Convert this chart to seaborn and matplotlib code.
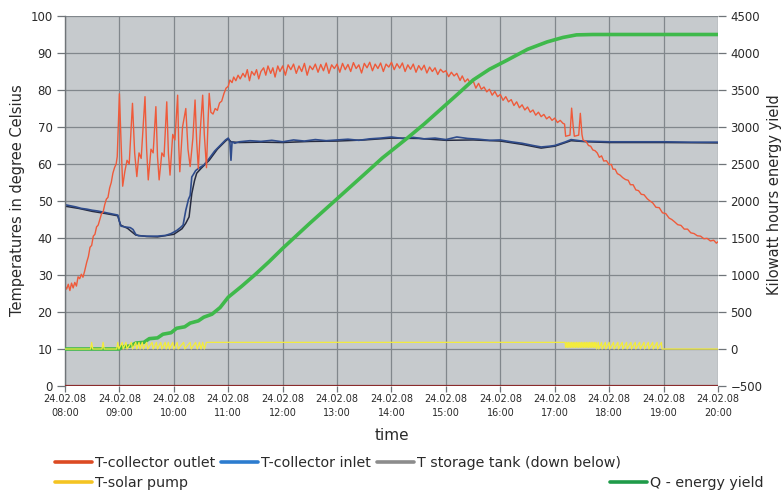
import matplotlib
matplotlib.use("Agg")
import matplotlib.pyplot as plt
from matplotlib.lines import Line2D
import seaborn as sns
import pandas as pd

# ---------------- data (hours of 24.02.08) ----------------
red_t = [8.00, 8.03, 8.06, 8.09, 8.12, 8.15, 8.18, 8.21, 8.24, 8.27, 8.30, 8.33, 8.36, 8.40,
         8.43, 8.46, 8.49, 8.52, 8.55, 8.58, 8.61, 8.64, 8.67, 8.70, 8.73, 8.76, 8.79, 8.82,
         8.85, 8.88, 8.91, 8.94, 8.96, 9.00, 9.03, 9.06, 9.10, 9.14, 9.18, 9.24, 9.28, 9.32,
         9.36, 9.40, 9.47, 9.50, 9.53, 9.58, 9.62, 9.67, 9.70, 9.73, 9.78, 9.82, 9.87, 9.90,
         9.93, 9.98, 10.02, 10.07, 10.09, 10.11, 10.16, 10.22, 10.26, 10.30, 10.35, 10.39,
         10.42, 10.45, 10.49, 10.53, 10.56, 10.60, 10.63, 10.65, 10.68, 10.72, 10.76, 10.80,
         10.84, 10.88, 10.92, 10.96, 11.00, 11.03, 11.07, 11.10, 11.14, 11.18, 11.22, 11.27,
         11.31, 11.35, 11.39, 11.43, 11.48, 11.52, 11.56, 11.60, 11.65, 11.69, 11.73, 11.78,
         11.82, 11.86, 11.91, 11.95, 12.00, 12.05, 12.10, 12.15, 12.20, 12.25, 12.30, 12.35,
         12.40, 12.45, 12.50, 12.55, 12.60, 12.65, 12.70, 12.75, 12.80, 12.85, 12.90, 12.95,
         13.00, 13.05, 13.10, 13.15, 13.20, 13.25, 13.30, 13.35, 13.40, 13.45, 13.50, 13.55,
         13.60, 13.65, 13.70, 13.75, 13.80, 13.85, 13.90, 13.95, 14.00, 14.05, 14.10, 14.15,
         14.20, 14.25, 14.30, 14.35, 14.40, 14.45, 14.50, 14.55, 14.60, 14.65, 14.70, 14.75,
         14.80, 14.85, 14.90, 14.95, 15.00, 15.05, 15.10, 15.15, 15.20, 15.26, 15.30, 15.35,
         15.40, 15.45, 15.50, 15.55, 15.60, 15.65, 15.70, 15.75, 15.80, 15.85, 15.90, 15.95,
         16.00, 16.05, 16.10, 16.15, 16.20, 16.25, 16.30, 16.35, 16.40, 16.45, 16.50, 16.55,
         16.60, 16.65, 16.70, 16.75, 16.80, 16.85, 16.90, 16.95, 17.00, 17.05, 17.10, 17.15,
         17.18, 17.20, 17.28, 17.31, 17.34, 17.36, 17.44, 17.47, 17.50, 17.52, 17.58, 17.62,
         17.66, 17.70, 17.74, 17.78, 17.82, 17.86, 17.90, 17.95, 18.00, 18.04, 18.07, 18.11,
         18.15, 18.20, 18.25, 18.30, 18.35, 18.39, 18.44, 18.49, 18.54, 18.59, 18.64, 18.70,
         18.75, 18.80, 18.86, 18.92, 18.98, 19.04, 19.10, 19.15, 19.20, 19.26, 19.32, 19.38,
         19.44, 19.50, 19.56, 19.62, 19.68, 19.74, 19.80, 19.86, 19.92, 19.97, 20.00]
red_v = [27.0, 26.2, 27.5, 25.8, 27.8, 26.5, 28.0, 27.0, 29.5, 29.0, 30.2, 29.4, 31.0, 33.5,
         35.0, 37.5, 38.0, 40.5, 41.0, 43.0, 43.5, 45.0, 46.5, 47.0, 49.0, 50.5, 51.0, 53.5,
         55.0, 57.5, 59.0, 60.0, 62.0, 79.0, 66.0, 54.0, 58.0, 61.0, 60.0, 76.4, 63.0, 56.6,
         63.0, 61.5, 78.2, 64.0, 55.7, 64.0, 63.0, 75.5, 62.0, 55.7, 63.0, 62.0, 76.8, 63.0,
         57.0, 68.0, 66.5, 78.6, 65.0, 57.9, 70.0, 75.0, 64.0, 59.3, 67.0, 77.3,
         66.0, 58.8, 70.0, 78.6, 68.0, 59.0, 72.0, 79.1, 74.0, 73.5, 75.0, 74.5,
         76.5, 77.0, 79.0, 80.5, 81.0, 82.7, 82.0, 83.5, 82.5, 84.0, 83.0, 84.5,
         83.5, 85.5, 82.5, 85.0, 84.0, 85.5, 83.0, 85.0, 86.0, 84.0, 86.5, 84.5,
         86.0, 83.5, 86.5, 85.0, 86.5, 84.0, 86.8, 85.5, 87.0, 84.5, 86.5, 85.0,
         87.2, 84.0, 86.5, 85.5, 87.0, 84.8, 86.9, 85.2, 87.3, 84.5, 86.8, 85.8,
         87.0, 84.8, 87.2, 85.5, 86.9, 85.0, 87.4, 85.8, 86.8, 84.6, 87.2, 86.0,
         87.5, 85.2, 87.0, 85.8, 87.3, 85.0, 87.0, 86.2, 87.5, 85.5, 87.1, 85.9,
         87.3, 85.0, 86.8, 85.6, 87.0, 84.8, 86.6, 85.4, 86.7, 84.6, 86.2, 85.0,
         86.0, 84.2, 85.6, 84.8, 85.2, 83.6, 84.8, 83.8, 84.5, 82.6, 83.8, 82.2,
         83.0, 81.8, 82.5, 80.5, 81.8, 80.2, 80.8, 79.5, 80.2, 78.6, 79.6, 78.2,
         78.8, 77.2, 78.2, 76.8, 77.4, 75.8, 76.8, 75.2, 76.0, 74.6, 75.4, 74.0,
         74.6, 73.2, 74.0, 72.8, 73.4, 72.2, 72.8, 71.8, 72.4, 71.2, 71.8, 71.0,
         70.8, 67.5, 67.8, 75.1, 70.0, 67.5, 67.8, 73.7, 68.0, 66.5, 66.0, 65.0,
         64.8, 63.8, 63.6, 63.0, 61.8, 62.2, 60.8, 60.9, 59.8, 59.9, 58.6, 58.6,
         57.4, 57.0, 56.3, 55.8, 55.6, 54.4, 54.4, 53.0, 52.8, 51.8, 51.7, 50.6,
         50.0, 49.5, 48.3, 48.2, 46.8, 46.6, 45.4, 45.0, 44.4, 43.6, 43.4, 42.4,
         42.4, 41.4, 41.2, 40.6, 40.5, 39.8, 39.9, 39.2, 39.4, 38.6, 39.0]

inlet_t = [8.00, 8.10, 8.20, 8.30, 8.40, 8.50, 8.60, 8.70, 8.80, 8.90, 8.97, 9.00, 9.03, 9.10,
           9.20, 9.25, 9.30, 9.35, 9.50, 9.70, 9.85, 9.95, 10.05, 10.12, 10.17, 10.22, 10.27,
           10.30, 10.33, 10.36, 10.40, 10.45, 10.55, 10.65, 10.75, 10.85, 10.95, 11.00, 11.03,
           11.05, 11.07, 11.12, 11.2, 11.4, 11.6, 11.8, 12.0, 12.2, 12.4, 12.6, 12.8, 13.0,
           13.2, 13.4, 13.6, 13.8, 14.0, 14.2, 14.4, 14.6, 14.8, 15.0, 15.2, 15.4, 15.6, 15.8,
           16.0, 16.2, 16.4, 16.6, 16.75, 16.9, 17.0, 17.1, 17.2, 17.3, 17.4, 17.5, 18.0,
           18.5, 19.0, 19.5, 20.0]
inlet_v = [49.0, 48.7, 48.4, 48.0, 47.8, 47.5, 47.3, 47.0, 46.7, 46.4, 46.2, 44.5, 43.2, 43.0,
           42.8, 42.3, 41.0, 40.6, 40.5, 40.5, 40.7, 41.2, 42.0, 42.8, 43.5, 47.5, 50.5,
           51.5, 56.5, 57.2, 58.2, 58.8, 59.7, 61.5, 63.5, 65.0, 66.5, 67.0, 66.0,
           61.0, 66.0, 65.6, 66.0, 66.3, 66.1, 66.4, 66.0, 66.5, 66.2, 66.6, 66.3, 66.5,
           66.7, 66.4, 66.8, 67.0, 67.3, 66.9, 67.2, 66.8, 67.0, 66.6, 67.3, 66.9, 66.7, 66.4,
           66.5, 66.0, 65.6, 65.0, 64.6, 64.8, 65.0, 65.5, 66.0, 66.6, 66.4, 66.2, 66.0,
           66.0, 66.0, 65.9, 65.9]

tank_t = [8.00, 8.25, 8.50, 8.75, 8.97, 9.02, 9.15, 9.30, 9.50, 9.70, 10.00, 10.15, 10.22,
          10.28, 10.33, 10.38, 10.42, 10.50, 10.65, 10.80, 10.95, 11.00, 11.05, 11.2, 11.6,
          12.0, 12.5, 13.0, 13.5, 14.0, 14.5, 15.0, 15.5, 16.0, 16.4, 16.75, 17.0, 17.3,
          17.6, 18.0, 19.0, 20.0]
tank_v = [48.6, 48.0, 47.2, 46.6, 46.0, 43.5, 42.6, 40.8, 40.4, 40.3, 41.0, 42.5, 44.0,
          45.7, 52.0, 55.5, 57.5, 58.8, 61.0, 64.0, 66.2, 66.8, 66.0, 65.8, 65.9,
          65.8, 66.1, 66.2, 66.5, 67.0, 66.9, 66.4, 66.5, 66.2, 65.3, 64.3, 64.8, 66.3,
          66.0, 65.8, 65.8, 65.7]

pump_t = [8.00, 8.47, 8.49, 8.51, 8.68, 8.70, 8.72, 8.95, 8.97, 8.99, 9.05, 9.07, 9.12, 9.14,
          9.22, 9.24, 9.30, 9.32, 9.36, 9.38, 9.42, 9.44, 9.50, 9.52, 9.60, 9.62, 9.68, 9.70,
          9.76, 9.78, 9.84, 9.86, 9.90, 9.92, 9.98, 10.00, 10.06, 10.08, 10.18, 10.20, 10.30,
          10.32, 10.40, 10.43, 10.47, 10.50, 10.53, 10.56, 10.60, 17.19, 17.20, 17.22, 17.23,
          17.25, 17.26, 17.28, 17.29, 17.31, 17.32, 17.34, 17.35, 17.37, 17.38, 17.40, 17.41,
          17.43, 17.44, 17.46, 17.47, 17.49, 17.50, 17.52, 17.53, 17.55, 17.56, 17.58, 17.59,
          17.61, 17.62, 17.64, 17.65, 17.67, 17.68, 17.70, 17.71, 17.73, 17.74, 17.76, 17.77,
          17.80, 17.81, 17.86, 17.87, 17.93, 17.94, 18.00, 18.01, 18.08, 18.09, 18.16, 18.17,
          18.24, 18.25, 18.32, 18.33, 18.40, 18.41, 18.48, 18.49, 18.56, 18.57, 18.64, 18.65,
          18.72, 18.73, 18.80, 18.81, 18.88, 18.89, 18.96, 18.97, 20.00]
pump_v = [0, 0, 90, 0, 0, 90, 0, 0, 90, 0, 90, 0, 90, 0,
          90, 0, 90, 0, 90, 0, 90, 0, 90, 0, 90, 0, 90, 0,
          90, 0, 90, 0, 90, 0, 90, 0, 90, 0, 90, 0, 90,
          0, 90, 0, 90, 0, 90, 0, 90, 90, 20, 90, 20,
          90, 20, 90, 20, 90, 20, 90, 20, 90, 20, 90, 20,
          90, 20, 90, 20, 90, 20, 90, 20, 90, 20, 90, 20,
          90, 20, 90, 20, 90, 20, 90, 20, 90, 20, 90, 0,
          90, 0, 90, 0, 90, 0, 90, 0, 90, 0, 90, 0,
          90, 0, 90, 0, 90, 0, 90, 0, 90, 0, 90, 0,
          90, 0, 90, 0, 90, 0, 90, 0, 0]

q_t = [8.0, 8.5, 9.0, 9.05, 9.2, 9.3, 9.45, 9.55, 9.7, 9.8, 9.95, 10.05, 10.2, 10.3, 10.45,
       10.55, 10.7, 10.85, 11.0, 11.25, 11.5, 11.75, 12.0, 12.5, 13.0, 13.5, 13.83, 14.29,
       14.6, 14.89, 15.26, 15.5, 15.8, 16.13, 16.5, 16.86, 17.15, 17.4, 17.7, 18.5, 20.0]
q_v = [0, 0, 0, 30, 40, 80, 90, 140, 150, 200, 220, 280, 300, 350, 380,
       430, 470, 560, 700, 850, 1010, 1180, 1360, 1700, 2030, 2360, 2580, 2850,
       3040, 3230, 3473, 3635, 3780, 3905, 4050, 4150, 4210, 4245, 4250, 4250, 4250]

hours = list(range(8, 21))
xtick_labels = ["24.02.08\n%02d:00" % h for h in hours]
temp_ticks = list(range(0, 101, 10))
q_ticks = list(range(-500, 4501, 500))

# ---------------- styling ----------------
sns.set_style("white")
plt.rcParams["font.family"] = ["DejaVu Sans"]

C_RED = "#ef5a3a"
C_INLET = "#2f4c8c"
C_TANK = "#262b40"
C_PUMP = "#f3ec3c"
C_Q = "#3fb94b"
BG = "#c6cacd"
GRID = "#81878c"
TXT = "#2a2a2a"

fig = plt.figure(figsize=(7.84, 4.95), dpi=100)
ax = fig.add_axes([65 / 784, 1 - 386 / 495, (718 - 65) / 784, (386 - 16) / 495])
ax.set_facecolor(BG)
ax2 = ax.twinx()

ax.set_xlim(8, 20)
ax.set_ylim(0, 100)
ax2.set_ylim(-500, 4500)

ax.set_xticks(hours)
ax.set_xticklabels(xtick_labels)
ax.set_yticks(temp_ticks)
ax2.set_yticks(q_ticks)
ax.grid(True, color=GRID, linewidth=0.9)
ax.set_axisbelow(True)

df_red = pd.DataFrame({"t": red_t, "v": red_v})
df_in = pd.DataFrame({"t": inlet_t, "v": inlet_v})
df_tank = pd.DataFrame({"t": tank_t, "v": tank_v})
df_pump = pd.DataFrame({"t": pump_t, "v": pump_v})
df_q = pd.DataFrame({"t": q_t, "v": q_v})

sns.lineplot(data=df_tank, x="t", y="v", ax=ax, color=C_TANK, linewidth=1.1,
             estimator=None, sort=False)
sns.lineplot(data=df_in, x="t", y="v", ax=ax, color=C_INLET, linewidth=1.2,
             estimator=None, sort=False)
sns.lineplot(data=df_red, x="t", y="v", ax=ax, color=C_RED, linewidth=1.0,
             estimator=None, sort=False)
ax.axhline(0, color="#8a2c2c", linewidth=1.6, zorder=5)

sns.lineplot(data=df_q, x="t", y="v", ax=ax2, color=C_Q, linewidth=2.6,
             estimator=None, sort=False)
sns.lineplot(data=df_pump, x="t", y="v", ax=ax2, color=C_PUMP, linewidth=0.9,
             estimator=None, sort=False)
ax2.set_ylim(-500, 4500)
ax.set_xlim(8, 20)

for a in (ax, ax2):
    a.set_xlabel("")
    a.set_ylabel("")
    for s in a.spines.values():
        s.set_visible(False)
ax.spines["left"].set_visible(True)
ax.spines["left"].set_color("#6f7478")
ax.spines["left"].set_linewidth(1.0)

ax.tick_params(axis="y", direction="out", length=6, width=0.9, color="#6f7478",
               labelsize=8.5, labelcolor=TXT, pad=3, left=True)
ax.tick_params(axis="x", direction="out", length=4, width=0.9, color="#6f7478",
               labelsize=7, labelcolor=TXT, pad=2, bottom=True)
ax2.tick_params(axis="y", direction="out", length=6, width=0.9, color="#6f7478",
                labelsize=8.5, labelcolor=TXT, pad=3, right=True)
for lbl in ax.get_xticklabels():
    lbl.set_linespacing(1.5)

fig.text(0.5 * (65 + 718) / 784, 1 - 435 / 495, "time", ha="center", va="center",
         fontsize=11, color=TXT)
fig.text(18 / 784, 1 - 200 / 495, "Temperatures in degree Celsius", rotation=90,
         ha="center", va="center", fontsize=10.5, color=TXT)
fig.text(775 / 784, 1 - 195 / 495, "Kilowatt hours energy yield", rotation=90,
         ha="center", va="center", fontsize=10.5, color=TXT)

# ---------------- legend ----------------
h_red = Line2D([], [], color="#dc4a22", linewidth=2.6)
h_in = Line2D([], [], color="#2c7ccf", linewidth=2.6)
h_tank = Line2D([], [], color="#8c8c8c", linewidth=2.6)
h_pump = Line2D([], [], color="#f4c422", linewidth=2.6)
h_q = Line2D([], [], color="#1f9b49", linewidth=2.6)

leg_kw = dict(frameon=False, fontsize=10.3, handlelength=2.6, handletextpad=0.2,
              borderpad=0, borderaxespad=0, labelcolor=TXT)
leg1 = fig.legend([h_red, h_in, h_tank],
                  ["T-collector outlet", "T-collector inlet", "T storage tank (down below)"],
                  loc="center left", bbox_to_anchor=(55 / 784, 1 - 463 / 495), ncol=3,
                  columnspacing=0.4, **leg_kw)
leg2 = fig.legend([h_pump], ["T-solar pump"], loc="center left",
                  bbox_to_anchor=(55 / 784, 1 - 483 / 495), **leg_kw)
leg3 = fig.legend([h_q], ["Q - energy yield"], loc="center left",
                  bbox_to_anchor=(610 / 784, 1 - 483 / 495), **leg_kw)

fig.savefig("out.png", dpi=100, facecolor="white")
